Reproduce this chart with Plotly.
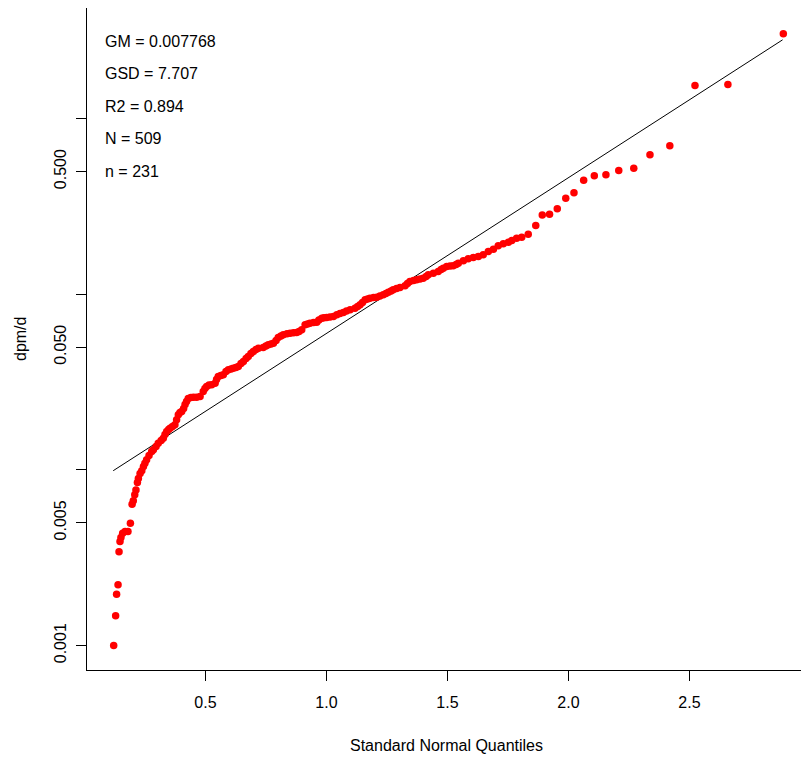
import plotly.graph_objects as go

quantiles = [
    0.121, 0.129, 0.133, 0.139, 0.143, 0.147, 0.151, 0.158, 0.168, 0.180,
    0.190, 0.197, 0.202, 0.208, 0.213, 0.219, 0.223, 0.230, 0.237, 0.244,
    0.250, 0.257, 0.267, 0.278, 0.285, 0.296, 0.305, 0.317, 0.326, 0.333,
    0.340, 0.348, 0.354, 0.364, 0.374, 0.381, 0.388, 0.395, 0.402, 0.410,
    0.416, 0.422, 0.429, 0.440, 0.451, 0.464, 0.478, 0.491, 0.498, 0.505,
    0.515, 0.526, 0.540, 0.546, 0.553, 0.564, 0.574, 0.585, 0.595, 0.606,
    0.615, 0.626, 0.636, 0.647, 0.657, 0.668, 0.677, 0.688, 0.698, 0.709,
    0.719, 0.739, 0.750, 0.760, 0.771, 0.781, 0.792, 0.801, 0.812, 0.822,
    0.837, 0.850, 0.864, 0.877, 0.887, 0.898, 0.912, 0.922, 0.932, 0.947,
    0.960, 0.969, 0.981, 0.990, 1.001, 1.015, 1.029, 1.043, 1.056, 1.070,
    1.083, 1.098, 1.118, 1.129, 1.139, 1.149, 1.160, 1.170, 1.180, 1.195,
    1.208, 1.221, 1.235, 1.246, 1.256, 1.267, 1.276, 1.290, 1.304, 1.325,
    1.335, 1.345, 1.360, 1.373, 1.387, 1.400, 1.412, 1.421, 1.442, 1.462,
    1.474, 1.483, 1.497, 1.511, 1.524, 1.536, 1.545, 1.566, 1.586, 1.607,
    1.628, 1.648, 1.669, 1.690, 1.710, 1.731, 1.752, 1.766, 1.786, 1.807,
    1.834, 1.865, 1.892, 1.922, 1.954, 1.989, 2.023, 2.063, 2.107, 2.155,
    2.208, 2.270, 2.337, 2.419, 2.523, 2.659, 2.888,
]
dpm_per_day = [
    0.00100, 0.00148, 0.00196, 0.00222, 0.00342, 0.00391, 0.00412, 0.00436, 0.00446, 0.00446,
    0.00497, 0.00638, 0.00667, 0.00722, 0.00770, 0.00848, 0.00893, 0.00954, 0.00988, 0.01046,
    0.01092, 0.01142, 0.01208, 0.01273, 0.01302, 0.01359, 0.01419, 0.01471, 0.01516, 0.01591,
    0.01655, 0.01699, 0.01728, 0.01767, 0.01807, 0.01929, 0.02060, 0.02123, 0.02151, 0.02237,
    0.02357, 0.02452, 0.02550, 0.02584, 0.02594, 0.02594, 0.02618, 0.02796, 0.02908, 0.02985,
    0.03045, 0.03053, 0.03117, 0.03272, 0.03403, 0.03448, 0.03480, 0.03634, 0.03715, 0.03755,
    0.03795, 0.03829, 0.03880, 0.04036, 0.04143, 0.04310, 0.04424, 0.04602, 0.04724, 0.04849,
    0.04932, 0.04977, 0.05076, 0.05157, 0.05212, 0.05267, 0.05457, 0.05675, 0.05788, 0.05880,
    0.05958, 0.06005, 0.06037, 0.06061, 0.06141, 0.06278, 0.06704, 0.06775, 0.06846, 0.06909,
    0.06936, 0.07139, 0.07310, 0.07348, 0.07377, 0.07425, 0.07474, 0.07643, 0.07775, 0.07877,
    0.08033, 0.08160, 0.08333, 0.08521, 0.08713, 0.08981, 0.09305, 0.09402, 0.09502, 0.09590,
    0.09627, 0.09779, 0.09936, 0.1011, 0.1028, 0.1044, 0.1061, 0.1079, 0.1093, 0.1118,
    0.1152, 0.1183, 0.1199, 0.1209, 0.1222, 0.1235, 0.1263, 0.1292, 0.1319, 0.1349,
    0.1384, 0.1408, 0.1440, 0.1450, 0.1453, 0.1478, 0.1504, 0.1551, 0.1593, 0.1620,
    0.1642, 0.1679, 0.1753, 0.1807, 0.1889, 0.1939, 0.1980, 0.2025, 0.2087, 0.2115,
    0.2199, 0.2465, 0.2829, 0.2855, 0.3069, 0.3527, 0.3784, 0.4465, 0.4730, 0.4792,
    0.5070, 0.5225, 0.6230, 0.7009, 1.546, 1.566, 3.045,
]

# Fitted lognormal line (end points)
fit_x = [0.119, 2.885]
fit_y = [0.0099, 2.81]

stats_lines = ["GM = 0.007768", "GSD = 7.707", "R2 = 0.894", "N = 509", "n = 231"]

y_tick_vals = [0.001, 0.005, 0.01, 0.05, 0.1, 0.5, 1]
y_tick_text = ["0.001", "0.005", "", "0.050", "", "0.500", ""]
x_tick_vals = [0.5, 1.0, 1.5, 2.0, 2.5]
x_tick_text = ["0.5", "1.0", "1.5", "2.0", "2.5"]

FONT = "Liberation Sans, Arial, sans-serif"

fig = go.Figure()
fig.add_trace(go.Scatter(
    x=fit_x, y=fit_y, mode="lines",
    line=dict(color="black", width=1), showlegend=False, hoverinfo="skip",
))
fig.add_trace(go.Scatter(
    x=quantiles, y=dpm_per_day, mode="markers",
    marker=dict(color="#ff0000", size=7.5, line=dict(width=0)),
    showlegend=False,
))

annotations = []
y0 = 0.950
for i, t in enumerate(stats_lines):
    annotations.append(dict(
        text=t, xref="paper", yref="paper", x=0.0222, y=y0 - i * 0.0492,
        xanchor="left", yanchor="middle", showarrow=False,
        font=dict(family=FONT, size=16, color="black"),
    ))
annotations.append(dict(
    text="Standard Normal Quantiles", xref="paper", yref="paper",
    x=0.499, y=-0.1133, xanchor="center", yanchor="middle", showarrow=False,
    font=dict(family=FONT, size=16, color="black"),
))
annotations.append(dict(
    text="dpm/d", xref="paper", yref="paper", textangle=-90,
    x=-0.0929, y=0.5, xanchor="center", yanchor="middle", showarrow=False,
    font=dict(family=FONT, size=16, color="black"),
))

fig.update_layout(
    width=809, height=761,
    margin=dict(l=79, r=9, t=0, b=99),
    paper_bgcolor="white", plot_bgcolor="white",
    font=dict(family=FONT, size=16, color="black"),
    annotations=annotations,
    xaxis=dict(
        range=[0.0107, 2.990], tickvals=x_tick_vals, ticktext=x_tick_text,
        showgrid=False, zeroline=False, showline=True, mirror=True,
        linecolor="black", linewidth=1, ticks="outside", ticklen=10,
        tickcolor="black", tickwidth=1, tickfont=dict(size=16),
        ticklabelstandoff=8,
    ),
    yaxis=dict(
        type="log", range=[-3.139, 0.630], tickvals=y_tick_vals, ticktext=y_tick_text,
        showgrid=False, zeroline=False, showline=True, mirror=True,
        linecolor="black", linewidth=1, ticks="outside", ticklen=10,
        tickcolor="black", tickwidth=1, tickangle=-90, tickfont=dict(size=16),
        ticklabelstandoff=4,
    ),
)

fig.write_html("out.html")
